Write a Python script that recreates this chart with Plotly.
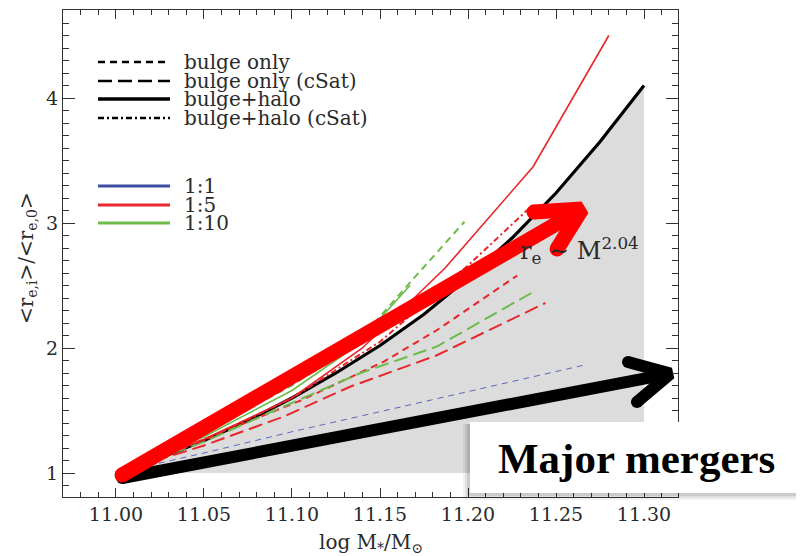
import plotly.graph_objects as go

# ---------------- data ----------------
mass_obs = [11.000, 11.025, 11.050, 11.075, 11.100, 11.125, 11.150, 11.175, 11.200, 11.225, 11.250, 11.275, 11.300]
size_obs = [1.00, 1.12, 1.26, 1.42, 1.60, 1.80, 2.02, 2.27, 2.56, 2.88, 3.24, 3.65, 4.10]
baseline = 1.0

# 1:1 mergers
m11_bulge = [11.000, 11.050, 11.100, 11.150, 11.200, 11.265]
r11_bulge = [1.00, 1.16, 1.33, 1.49, 1.65, 1.86]
m11_halo = [11.000, 11.050, 11.100, 11.150, 11.200, 11.250, 11.290]
r11_halo = [1.00, 1.11, 1.23, 1.36, 1.49, 1.62, 1.73]

# 1:5 mergers
m15_bulge = [11.000, 11.050, 11.105, 11.152, 11.182, 11.228]
r15_bulge = [1.00, 1.27, 1.58, 1.89, 2.14, 2.58]
m15_bulge_csat = [11.000, 11.050, 11.095, 11.133, 11.182, 11.244]
r15_bulge_csat = [1.00, 1.22, 1.45, 1.69, 1.94, 2.36]
m15_halo = [11.000, 11.050, 11.100, 11.140, 11.187, 11.237, 11.280]
r15_halo = [1.00, 1.27, 1.60, 2.00, 2.64, 3.45, 4.50]
m15_halo_csat = [11.000, 11.050, 11.100, 11.150, 11.200, 11.238]
r15_halo_csat = [1.00, 1.26, 1.60, 2.05, 2.66, 3.16]

# 1:10 mergers
m110_bulge = [11.000, 11.050, 11.100, 11.140, 11.163, 11.198]
r110_bulge = [1.00, 1.32, 1.70, 2.09, 2.46, 3.01]
m110_bulge_csat = [11.000, 11.050, 11.095, 11.139, 11.182, 11.236]
r110_bulge_csat = [1.00, 1.25, 1.53, 1.80, 2.01, 2.44]
m110_halo = [11.000, 11.050, 11.100, 11.135, 11.167]
r110_halo = [1.00, 1.29, 1.66, 2.00, 2.50]

# overlay arrows: shaft start, tip, chevron arm ends
red_arrow_x = [11.0034, 11.2648, 11.2375, 11.2506]
red_arrow_y = [0.984, 3.112, 3.088, 2.792]
black_arrow_x = [11.0035, 11.3150, 11.2909, 11.2960]
black_arrow_y = [0.960, 1.795, 1.888, 1.568]

x_ticks = [11.00, 11.05, 11.10, 11.15, 11.20, 11.25, 11.30]
y_ticks = [1, 2, 3, 4]

legend_styles = ["bulge only", "bulge only (cSat)", "bulge+halo", "bulge+halo (cSat)"]
legend_ratios = ["1:1", "1:5", "1:10"]

# ---------------- style ----------------
RED = "#e8262b"
GREEN = "#6dbb4a"
BLUE = "#3c4da0"
BLUE_LIGHT = "#5a68b8"
GREY = "#dcdcdc"
TXT = "#2a2a2a"
SERIF = "DejaVu Serif"

# page is 804x556, the body has an 8px margin
PAGE_W, PAGE_H = 804, 556
OFF = 8
W, H = PAGE_W - OFF, PAGE_H - OFF
PL, PR, PT, PB = 63, 678, 10, 497          # plot area in page pixels
L, R, T, B = PL - OFF, PAGE_W - PR, PT - OFF, PAGE_H - PB
PW, PH = PR - PL, PB - PT


def pxx(xp):
    return (xp - PL) / PW


def pxy(yp):
    return (PB - yp) / PH


SHORT = "7px,5px"
LONG = "14px,6px"
DASHDOT = "6px,3px,2px,3px"

fig = go.Figure()

# grey region under the observed relation
fig.add_trace(go.Scatter(
    x=mass_obs + [mass_obs[-1], mass_obs[0]],
    y=size_obs + [baseline, baseline],
    mode="lines", fill="toself", fillcolor=GREY,
    line=dict(width=0), hoverinfo="skip", showlegend=False))

fig.add_trace(go.Scatter(x=mass_obs, y=size_obs, mode="lines",
                         line=dict(color="black", width=3.2), showlegend=False))


def line(x, y, color, width, dash="solid"):
    fig.add_trace(go.Scatter(x=x, y=y, mode="lines",
                             line=dict(color=color, width=width, dash=dash),
                             showlegend=False))


line(m11_halo, r11_halo, BLUE, 1.5)
line(m11_bulge, r11_bulge, BLUE_LIGHT, 1.0, "6px,5px")
line(m15_bulge, r15_bulge, RED, 2.0, SHORT)
line(m15_bulge_csat, r15_bulge_csat, RED, 2.0, LONG)
line(m110_bulge_csat, r110_bulge_csat, GREEN, 2.0, LONG)
line(m110_bulge, r110_bulge, GREEN, 2.0, SHORT)
line(m110_halo, r110_halo, GREEN, 1.6)
line(m15_halo_csat, r15_halo_csat, RED, 2.0, DASHDOT)
line(m15_halo, r15_halo, RED, 1.6)


def arrow(ax, ay, color, width):
    xs = [ax[0], ax[1], None, ax[2], ax[1], ax[3]]
    ys = [ay[0], ay[1], None, ay[2], ay[1], ay[3]]
    fig.add_trace(go.Scatter(x=xs, y=ys, mode="lines",
                             line=dict(color=color, width=width),
                             showlegend=False, hoverinfo="skip"))
    fig.add_trace(go.Scatter(x=[ax[0], ax[2], ax[3]], y=[ay[0], ay[2], ay[3]],
                             mode="markers",
                             marker=dict(color=color, size=width, line=dict(width=0)),
                             showlegend=False, hoverinfo="skip"))


arrow(black_arrow_x, black_arrow_y, "black", 12)
arrow(red_arrow_x, red_arrow_y, "#ff0000", 15)

shapes = []
annotations = []

# legend (manual)
style_rows = [62, 81, 99, 118]
style_dash = [SHORT, LONG, "solid", DASHDOT]
style_width = [2.5, 2.5, 3.5, 2.5]
for lab, yy, d, wdt in zip(legend_styles, style_rows, style_dash, style_width):
    shapes.append(dict(type="line", xref="paper", yref="paper",
                       x0=pxx(98), x1=pxx(170), y0=pxy(yy), y1=pxy(yy),
                       line=dict(color="black", width=wdt, dash=d)))
    annotations.append(dict(xref="paper", yref="paper", x=pxx(182), y=pxy(yy),
                            text=lab, showarrow=False, xanchor="left", yanchor="middle",
                            font=dict(family=SERIF, size=20, color=TXT)))
ratio_rows = [186, 205, 223]
ratio_cols = [BLUE, RED, GREEN]
for lab, yy, c in zip(legend_ratios, ratio_rows, ratio_cols):
    shapes.append(dict(type="line", xref="paper", yref="paper",
                       x0=pxx(98), x1=pxx(170), y0=pxy(yy), y1=pxy(yy),
                       line=dict(color=c, width=2.8)))
    annotations.append(dict(xref="paper", yref="paper", x=pxx(182), y=pxy(yy),
                            text=lab, showarrow=False, xanchor="left", yanchor="middle",
                            font=dict(family=SERIF, size=20, color=TXT)))

# r_e ~ M^2.04 label
annotations.append(dict(xref="paper", yref="paper", x=pxx(518), y=pxy(250),
                        text="r<sub>e</sub> ∼ M<sup>2.04</sup>", showarrow=False,
                        xanchor="left", yanchor="middle",
                        font=dict(family=SERIF, size=24, color=TXT)))

# axis titles
annotations.append(dict(xref="paper", yref="paper", x=pxx(371), y=pxy(543),
                        text="log M<sub>*</sub>/M<sub>⊙</sub>", showarrow=False,
                        xanchor="center", yanchor="middle",
                        font=dict(family=SERIF, size=20, color=TXT)))
annotations.append(dict(xref="paper", yref="paper", x=pxx(27), y=pxy(258),
                        text="&lt;r<sub>e,i</sub>&gt;/&lt;r<sub>e,0</sub>&gt;", showarrow=False,
                        textangle=-90, xanchor="center", yanchor="middle",
                        font=dict(family=SERIF, size=20, color=TXT)))

# "Major mergers" box with soft shadow
for off, alpha in [(7, 0.05), (5, 0.07), (3, 0.09)]:
    shapes.append(dict(type="rect", xref="paper", yref="paper", layer="above",
                       x0=pxx(470 - off), x1=pxx(802), y0=pxy(493 + off), y1=pxy(424),
                       fillcolor=f"rgba(0,0,0,{alpha})", line=dict(width=0)))
shapes.append(dict(type="rect", xref="paper", yref="paper", layer="above",
                   x0=pxx(470), x1=pxx(802), y0=pxy(493), y1=pxy(422),
                   fillcolor="white", line=dict(width=0)))
annotations.append(dict(xref="paper", yref="paper", x=pxx(636), y=pxy(458),
                        text="<b>Major mergers</b>", showarrow=False,
                        xanchor="center", yanchor="middle",
                        font=dict(family="Liberation Serif", size=43, color="black")))

axis_common = dict(showgrid=False, zeroline=False, showline=True, linecolor="#333",
                   linewidth=1, mirror="ticks", ticks="inside", tickcolor="#333",
                   tickfont=dict(family=SERIF, size=19, color=TXT))

fig.update_layout(
    width=W, height=H, margin=dict(l=L, r=R, t=T, b=B, pad=0),
    paper_bgcolor="white", plot_bgcolor="white", showlegend=False,
    xaxis=dict(range=[10.96989, 11.31932], tickvals=x_ticks,
               ticktext=[f"{v:.2f}" for v in x_ticks], ticklen=9, tickwidth=1,
               minor=dict(dtick=0.01, tick0=11.0, ticklen=5, ticks="inside", tickcolor="#333"),
               **axis_common),
    yaxis=dict(range=[0.808, 4.704], tickvals=y_ticks, ticklen=12, tickwidth=1,
               minor=dict(dtick=0.1, tick0=1.0, ticklen=6, ticks="inside", tickcolor="#333"),
               **axis_common),
    shapes=shapes, annotations=annotations,
)

fig.write_html("out.html")
